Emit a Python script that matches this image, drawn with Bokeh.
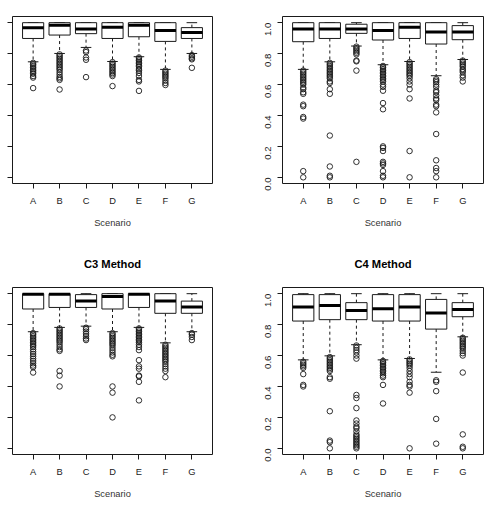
import math
from bokeh.plotting import figure
from bokeh.layouts import column, row
from bokeh.models import (ColumnDataSource, FixedTicker, PrintfTickFormatter, LinearAxis,
                          CustomLabelingPolicy)
from bokeh.embed import file_html
from bokeh.resources import INLINE

scenarios = ["A", "B", "C", "D", "E", "F", "G"]
y_ticks = [0.0, 0.2, 0.4, 0.6, 0.8, 1.0]

# ---- C1 method ----
c1_q1 = [0.898, 0.920, 0.929, 0.898, 0.909, 0.879, 0.898]
c1_med = [0.968, 0.983, 0.959, 0.970, 0.983, 0.950, 0.937]
c1_q3 = [1.0, 1.0, 1.0, 1.0, 1.0, 1.0, 0.968]
c1_lo = [0.747, 0.801, 0.840, 0.749, 0.780, 0.698, 0.801]
c1_hi = [1.0, 1.0, 1.0, 1.0, 1.0, 1.0, 1.0]
c1_out = [
    [0.74, 0.73, 0.72, 0.71, 0.70, 0.69, 0.68, 0.67, 0.655, 0.645, 0.577],
    [0.795, 0.785, 0.775, 0.765, 0.755, 0.745, 0.735, 0.725, 0.715, 0.705, 0.695, 0.68, 0.665, 0.65, 0.64, 0.63, 0.568],
    [0.82, 0.81, 0.775, 0.76, 0.648],
    [0.745, 0.735, 0.725, 0.715, 0.705, 0.695, 0.685, 0.675, 0.665, 0.655, 0.59],
    [0.775, 0.765, 0.755, 0.745, 0.735, 0.725, 0.715, 0.70, 0.69, 0.675, 0.655, 0.63, 0.62, 0.559],
    [0.69, 0.68, 0.67, 0.66, 0.65, 0.64, 0.625, 0.61, 0.597],
    [0.79, 0.78, 0.77, 0.763, 0.708],
]

# ---- C2 method ----
c2_q1 = [0.877, 0.898, 0.931, 0.888, 0.898, 0.862, 0.890]
c2_med = [0.959, 0.959, 0.959, 0.950, 0.970, 0.940, 0.940]
c2_q3 = [1.0, 1.0, 0.990, 1.0, 1.0, 1.0, 0.981]
c2_lo = [0.698, 0.747, 0.849, 0.728, 0.749, 0.657, 0.762]
c2_hi = [1.0, 1.0, 1.0, 1.0, 1.0, 1.0, 1.0]
c2_out = [
    [0.69, 0.68, 0.67, 0.66, 0.65, 0.64, 0.63, 0.62, 0.61, 0.60, 0.58, 0.57, 0.55, 0.54, 0.47, 0.46, 0.39, 0.38, 0.04, 0.0],
    [0.74, 0.73, 0.72, 0.71, 0.70, 0.69, 0.68, 0.67, 0.66, 0.65, 0.64, 0.62, 0.61, 0.57, 0.54, 0.27, 0.07, 0.01, 0.0],
    [0.845, 0.835, 0.825, 0.815, 0.805, 0.795, 0.755, 0.75, 0.69, 0.10],
    [0.72, 0.71, 0.70, 0.69, 0.68, 0.67, 0.66, 0.65, 0.64, 0.63, 0.62, 0.60, 0.585, 0.56, 0.48, 0.44, 0.20, 0.19, 0.17, 0.10, 0.09, 0.08, 0.04, 0.01, 0.0],
    [0.745, 0.735, 0.725, 0.715, 0.705, 0.695, 0.685, 0.675, 0.665, 0.655, 0.64, 0.62, 0.60, 0.57, 0.51, 0.17, 0.0],
    [0.635, 0.625, 0.615, 0.60, 0.585, 0.56, 0.55, 0.53, 0.51, 0.50, 0.47, 0.46, 0.42, 0.28, 0.11, 0.06, 0.04, 0.0],
    [0.755, 0.745, 0.735, 0.725, 0.715, 0.70, 0.69, 0.68, 0.66, 0.645, 0.62],
]

# ---- C3 method ----
c3_q1 = [0.901, 0.911, 0.911, 0.901, 0.911, 0.873, 0.873]
c3_med = [0.997, 0.997, 0.952, 0.981, 0.997, 0.952, 0.914]
c3_q3 = [1.0, 1.0, 0.994, 1.0, 1.0, 1.0, 0.952]
c3_lo = [0.754, 0.782, 0.790, 0.754, 0.782, 0.682, 0.754]
c3_hi = [1.0, 1.0, 1.0, 1.0, 1.0, 1.0, 1.0]
c3_out = [
    [0.745, 0.735, 0.725, 0.715, 0.705, 0.695, 0.685, 0.675, 0.665, 0.655, 0.64, 0.625, 0.61, 0.595, 0.58, 0.565, 0.55, 0.535, 0.525, 0.49],
    [0.775, 0.765, 0.755, 0.745, 0.735, 0.725, 0.715, 0.705, 0.695, 0.685, 0.67, 0.655, 0.64, 0.63, 0.50, 0.47, 0.40],
    [0.78, 0.77, 0.755, 0.74, 0.725, 0.71, 0.70],
    [0.745, 0.735, 0.725, 0.715, 0.705, 0.695, 0.685, 0.675, 0.665, 0.65, 0.635, 0.62, 0.605, 0.595, 0.40, 0.36, 0.20],
    [0.775, 0.765, 0.755, 0.745, 0.735, 0.725, 0.715, 0.705, 0.695, 0.685, 0.67, 0.655, 0.635, 0.57, 0.53, 0.515, 0.47, 0.465, 0.43, 0.31],
    [0.67, 0.66, 0.65, 0.64, 0.63, 0.62, 0.61, 0.60, 0.59, 0.58, 0.57, 0.56, 0.545, 0.53, 0.515, 0.50, 0.46],
    [0.745, 0.735, 0.72, 0.70],
]

# ---- C4 method ----
c4_q1 = [0.823, 0.832, 0.832, 0.823, 0.823, 0.771, 0.851]
c4_med = [0.914, 0.924, 0.892, 0.903, 0.914, 0.875, 0.898]
c4_q3 = [0.994, 0.994, 0.942, 0.994, 0.994, 0.963, 0.942]
c4_lo = [0.572, 0.598, 0.670, 0.572, 0.581, 0.492, 0.721]
c4_hi = [1.0, 1.0, 1.0, 1.0, 1.0, 1.0, 1.0]
c4_out = [
    [0.56, 0.55, 0.54, 0.53, 0.52, 0.48, 0.41, 0.40],
    [0.59, 0.58, 0.57, 0.56, 0.55, 0.54, 0.53, 0.52, 0.51, 0.50, 0.46, 0.45, 0.24, 0.05, 0.04, 0.0],
    [0.665, 0.65, 0.635, 0.62, 0.60, 0.58, 0.345, 0.325, 0.26, 0.18, 0.16, 0.14, 0.13, 0.11, 0.09, 0.08, 0.07, 0.06, 0.05, 0.04, 0.03, 0.02, 0.01, 0.0],
    [0.565, 0.555, 0.545, 0.535, 0.525, 0.515, 0.505, 0.495, 0.485, 0.47, 0.46, 0.41, 0.29],
    [0.575, 0.565, 0.555, 0.545, 0.535, 0.52, 0.50, 0.48, 0.46, 0.43, 0.41, 0.40, 0.36, 0.0],
    [0.44, 0.43, 0.37, 0.19, 0.03],
    [0.715, 0.705, 0.695, 0.685, 0.675, 0.665, 0.655, 0.645, 0.63, 0.615, 0.60, 0.49, 0.09, 0.01, 0.0],
]

FONT = "Liberation Sans"
INK = "#1a1a1a"
BOX_HALF = 0.4     # boxwex 0.8
CAP_HALF = 0.2     # staples are half the box width


def boxplot_panel(q1, med, q3, lo, hi, out, title, left_col, top_row):
    xs = list(range(1, len(scenarios) + 1))
    p = figure(
        frame_width=200 if left_col else 201,
        frame_height=167,
        x_range=(0.22, 7.78),
        y_range=(-0.04, 1.04),
        output_backend="svg",
        toolbar_location=None,
        min_border_left=12 if left_col else 37,
        min_border_right=33 if left_col else 6,
        min_border_top=16 if top_row else 37,
        min_border_bottom=67 if top_row else 55,
        background_fill_color="white",
        border_fill_color="white",
    )
    p.grid.visible = False
    p.outline_line_color = INK
    p.outline_line_width = 1

    if title:
        # heading drawn as the label of a bare axis above the frame
        head = LinearAxis(ticker=FixedTicker(ticks=[]), axis_label=title,
                          axis_line_color=None, major_tick_line_color=None,
                          minor_tick_line_color=None, major_tick_out=0, major_tick_in=0,
                          major_label_text_font_size="1px", major_label_standoff=0,
                          axis_label_standoff=18, axis_label_text_font=FONT,
                          axis_label_text_font_size="11.2px",
                          axis_label_text_font_style="bold",
                          axis_label_text_color="black")
        p.add_layout(head, "above")

    src = ColumnDataSource(dict(
        x=xs,
        bl=[x - BOX_HALF for x in xs], br=[x + BOX_HALF for x in xs],
        cl=[x - CAP_HALF for x in xs], cr=[x + CAP_HALF for x in xs],
        q1=q1, med=med, q3=q3, lo=lo, hi=hi,
    ))

    # dashed whiskers
    p.segment(x0="x", y0="q3", x1="x", y1="hi", source=src, line_color=INK,
              line_width=1, line_dash="3 3")
    p.segment(x0="x", y0="q1", x1="x", y1="lo", source=src, line_color=INK,
              line_width=1, line_dash="3 3")
    # staples
    p.segment(x0="cl", y0="hi", x1="cr", y1="hi", source=src, line_color=INK, line_width=1)
    p.segment(x0="cl", y0="lo", x1="cr", y1="lo", source=src, line_color=INK, line_width=1)
    # boxes and medians
    p.quad(left="bl", right="br", bottom="q1", top="q3", source=src,
           fill_color="white", line_color=INK, line_width=1)
    p.segment(x0="bl", y0="med", x1="br", y1="med", source=src, line_color="black",
              line_width=3, line_cap="butt")

    # outliers
    ox, oy = [], []
    for x, vals in zip(xs, out):
        ox.extend([x] * len(vals))
        oy.extend(vals)
    p.scatter(ox, oy, marker="circle", size=5.5, fill_color=None,
              line_color=INK, line_width=0.9)

    # axes
    xa = p.below[0]
    xa.ticker = FixedTicker(ticks=xs)
    xa.major_label_overrides = {x: s for x, s in zip(xs, scenarios)}
    xa.axis_label = "Scenario"
    ya = p.left[0]
    ya.ticker = FixedTicker(ticks=y_ticks)
    ya.formatter = PrintfTickFormatter(format="%.1f")
    for ax in (xa, ya):
        ax.axis_line_color = None
        ax.major_tick_line_color = INK
        ax.major_tick_out = 5
        ax.major_tick_in = 0
        ax.minor_tick_line_color = None
        ax.major_label_text_font = FONT
        ax.major_label_text_font_size = "9.3px"
        ax.major_label_text_color = INK
    xa.major_label_standoff = 7
    xa.axis_label_text_font = FONT
    xa.axis_label_text_font_size = "9.3px"
    xa.axis_label_text_font_style = "normal"
    xa.axis_label_text_color = "#333333"
    xa.axis_label_standoff = 9
    if left_col:
        # tick marks only on this side; the value labels sit outside the view
        ya.major_label_policy = CustomLabelingPolicy(
            code="for (const i of indices) indices.unset(i); return indices")
        ya.major_label_text_font_size = "1px"
        ya.major_label_standoff = 0
    else:
        ya.major_label_orientation = math.pi / 2
        ya.major_label_text_font_size = "9.6px"
        ya.major_label_standoff = 9
    return p


p1 = boxplot_panel(c1_q1, c1_med, c1_q3, c1_lo, c1_hi, c1_out, None, True, True)
p2 = boxplot_panel(c2_q1, c2_med, c2_q3, c2_lo, c2_hi, c2_out, None, False, True)
p3 = boxplot_panel(c3_q1, c3_med, c3_q3, c3_lo, c3_hi, c3_out, "C3 Method", True, False)
p4 = boxplot_panel(c4_q1, c4_med, c4_q3, c4_lo, c4_hi, c4_out, "C4 Method", False, False)

layout = column(row(p1, p2), row(p3, p4))
open("out.html", "w").write(file_html(layout, INLINE))
